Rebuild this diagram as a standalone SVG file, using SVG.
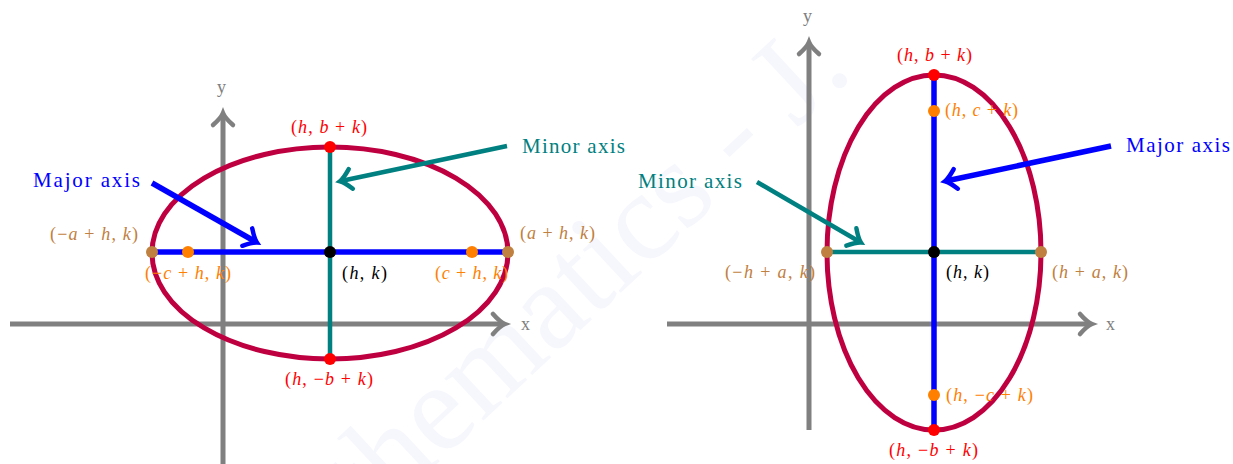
<svg xmlns="http://www.w3.org/2000/svg" width="1233" height="464" viewBox="0 0 1233 464">
<style>
.t{font-family:"Liberation Serif","Times New Roman",serif;font-size:18px}
.i{font-style:italic}
.lbl{font-family:"Liberation Serif","Times New Roman",serif;font-size:21px}
.ax{stroke:#808080;stroke-width:5;fill:none}
.ell{fill:none;stroke:#BF0040;stroke-width:5}
.blue{stroke:#0000FF;stroke-width:5.5;fill:none}
.teal{stroke:#008080;stroke-width:4.5;fill:none}
.red{fill:#FF0000}.brn{fill:#BF8040}.org{fill:#FF8000}.blk{fill:#000}
.gray{fill:#808080}
</style>
<defs>
<marker id="mg" viewBox="-16 -14 20 28" markerWidth="20" markerHeight="28" refX="0" refY="0" orient="auto" markerUnits="userSpaceOnUse" overflow="visible"><path d="M -11 -10 Q -4 -2 1 0 Q -4 2 -11 10" fill="none" stroke="#808080" stroke-width="4.5" stroke-linecap="round"/></marker>
<marker id="mb" viewBox="-16 -14 20 28" markerWidth="20" markerHeight="28" refX="0" refY="0" orient="auto" markerUnits="userSpaceOnUse" overflow="visible"><path d="M -10 -10 Q -3 -2 1 0 Q -3 2 -10 10" fill="none" stroke="#0000FF" stroke-width="4.5" stroke-linecap="round"/></marker>
<marker id="mt" viewBox="-16 -14 20 28" markerWidth="20" markerHeight="28" refX="0" refY="0" orient="auto" markerUnits="userSpaceOnUse" overflow="visible"><path d="M -10 -10 Q -3 -2 1 0 Q -3 2 -10 10" fill="none" stroke="#008080" stroke-width="4.5" stroke-linecap="round"/></marker>
</defs>
<rect width="1233" height="464" fill="#fff"/>
<text transform="translate(248,640) rotate(-43)" font-family="Liberation Serif, serif" font-size="125" fill="#f6f7fd">Mathematics - J.</text>

<g id="left-axes">
<line class="ax" x1="10" y1="324" x2="504" y2="324" marker-end="url(#mg)"/>
<line class="ax" x1="223" y1="464" x2="223" y2="114" marker-end="url(#mg)"/>
<text class="t gray" x="521" y="330">x</text>
<text class="t gray" x="217" y="93">y</text>
</g>
<g id="left-ellipse"><ellipse class="ell" cx="330" cy="253" rx="178" ry="106"/></g>
<g id="left-major-axis"><line class="blue" x1="152" y1="252" x2="508" y2="252"/></g>
<g id="left-minor-axis"><line class="teal" x1="330" y1="147" x2="330" y2="359"/></g>
<g id="left-points">
<circle class="brn" cx="152" cy="252" r="6"/><circle class="brn" cx="508" cy="252" r="6"/>
<circle class="org" cx="188" cy="252" r="6"/><circle class="org" cx="472" cy="252" r="6"/>
<circle class="blk" cx="330" cy="252" r="6"/>
<circle class="red" cx="330" cy="147" r="6"/><circle class="red" cx="330" cy="359" r="6"/>
</g>

<g id="right-axes">
<line class="ax" x1="667" y1="324" x2="1091" y2="324" marker-end="url(#mg)"/>
<line class="ax" x1="809" y1="430" x2="809" y2="43" marker-end="url(#mg)"/>
<text class="t gray" x="1106" y="330">x</text>
<text class="t gray" x="803" y="22">y</text>
</g>
<g id="right-ellipse"><ellipse class="ell" cx="934" cy="252.5" rx="107" ry="177.5"/></g>
<g id="right-major-axis"><line class="blue" x1="934" y1="75" x2="934" y2="430"/></g>
<g id="right-minor-axis"><line class="teal" x1="827" y1="252" x2="1041" y2="252"/></g>
<g id="right-points">
<circle class="red" cx="934" cy="75" r="6"/><circle class="red" cx="934" cy="430" r="6"/>
<circle class="org" cx="934" cy="111" r="6"/><circle class="org" cx="934" cy="395" r="6"/>
<circle class="brn" cx="827" cy="252" r="6"/><circle class="brn" cx="1041" cy="252" r="6"/>
<circle class="blk" cx="934" cy="252" r="6"/>
</g>

<g id="connectors">
<line class="blue" x1="152" y1="183" x2="256" y2="242" marker-end="url(#mb)"/>
<line class="teal" x1="507" y1="146" x2="341" y2="181" stroke-width="5" marker-end="url(#mt)"/>
<line class="blue" x1="1111" y1="146" x2="946" y2="181" marker-end="url(#mb)"/>
<line class="teal" x1="757" y1="182" x2="860" y2="242" stroke-width="5" marker-end="url(#mt)"/>
</g>

<g id="left-labels">
<text class="lbl" x="33" y="187" fill="#0000FF" textLength="107" lengthAdjust="spacing">Major axis</text>
<text class="lbl" x="522" y="153" fill="#008080" textLength="103" lengthAdjust="spacing">Minor axis</text>
<text class="t red" x="291" y="133" textLength="76" lengthAdjust="spacing">(<tspan class="i">h</tspan>, <tspan class="i">b</tspan> + <tspan class="i">k</tspan>)</text>
<text class="t red" x="285" y="385" textLength="88" lengthAdjust="spacing">(<tspan class="i">h</tspan>, −<tspan class="i">b</tspan> + <tspan class="i">k</tspan>)</text>
<text class="t brn" x="50" y="240" textLength="88" lengthAdjust="spacing">(−<tspan class="i">a</tspan> + <tspan class="i">h</tspan>, <tspan class="i">k</tspan>)</text>
<text class="t brn" x="520" y="239" textLength="75" lengthAdjust="spacing">(<tspan class="i">a</tspan> + <tspan class="i">h</tspan>, <tspan class="i">k</tspan>)</text>
<text class="t org" x="145" y="279" textLength="86" lengthAdjust="spacing">(−<tspan class="i">c</tspan> + <tspan class="i">h</tspan>, <tspan class="i">k</tspan>)</text>
<text class="t org" x="435" y="279" textLength="73" lengthAdjust="spacing">(<tspan class="i">c</tspan> + <tspan class="i">h</tspan>, <tspan class="i">k</tspan>)</text>
<text class="t blk" x="342" y="279" textLength="45" lengthAdjust="spacing">(<tspan class="i">h</tspan>, <tspan class="i">k</tspan>)</text>
</g>

<g id="right-labels">
<text class="lbl" x="1126" y="152" fill="#0000FF" textLength="104" lengthAdjust="spacing">Major axis</text>
<text class="lbl" x="638" y="188" fill="#008080" textLength="104" lengthAdjust="spacing">Minor axis</text>
<text class="t red" x="897" y="61" textLength="75" lengthAdjust="spacing">(<tspan class="i">h</tspan>, <tspan class="i">b</tspan> + <tspan class="i">k</tspan>)</text>
<text class="t org" x="945" y="116" textLength="73" lengthAdjust="spacing">(<tspan class="i">h</tspan>, <tspan class="i">c</tspan> + <tspan class="i">k</tspan>)</text>
<text class="t brn" x="725" y="278" textLength="90" lengthAdjust="spacing">(−<tspan class="i">h</tspan> + <tspan class="i">a</tspan>, <tspan class="i">k</tspan>)</text>
<text class="t brn" x="1052" y="278" textLength="76" lengthAdjust="spacing">(<tspan class="i">h</tspan> + <tspan class="i">a</tspan>, <tspan class="i">k</tspan>)</text>
<text class="t blk" x="946" y="278" textLength="43" lengthAdjust="spacing">(<tspan class="i">h</tspan>, <tspan class="i">k</tspan>)</text>
<text class="t org" x="946" y="401" textLength="87" lengthAdjust="spacing">(<tspan class="i">h</tspan>, −<tspan class="i">c</tspan> + <tspan class="i">k</tspan>)</text>
<text class="t red" x="889" y="456" textLength="89" lengthAdjust="spacing">(<tspan class="i">h</tspan>, −<tspan class="i">b</tspan> + <tspan class="i">k</tspan>)</text>
</g>
</svg>
